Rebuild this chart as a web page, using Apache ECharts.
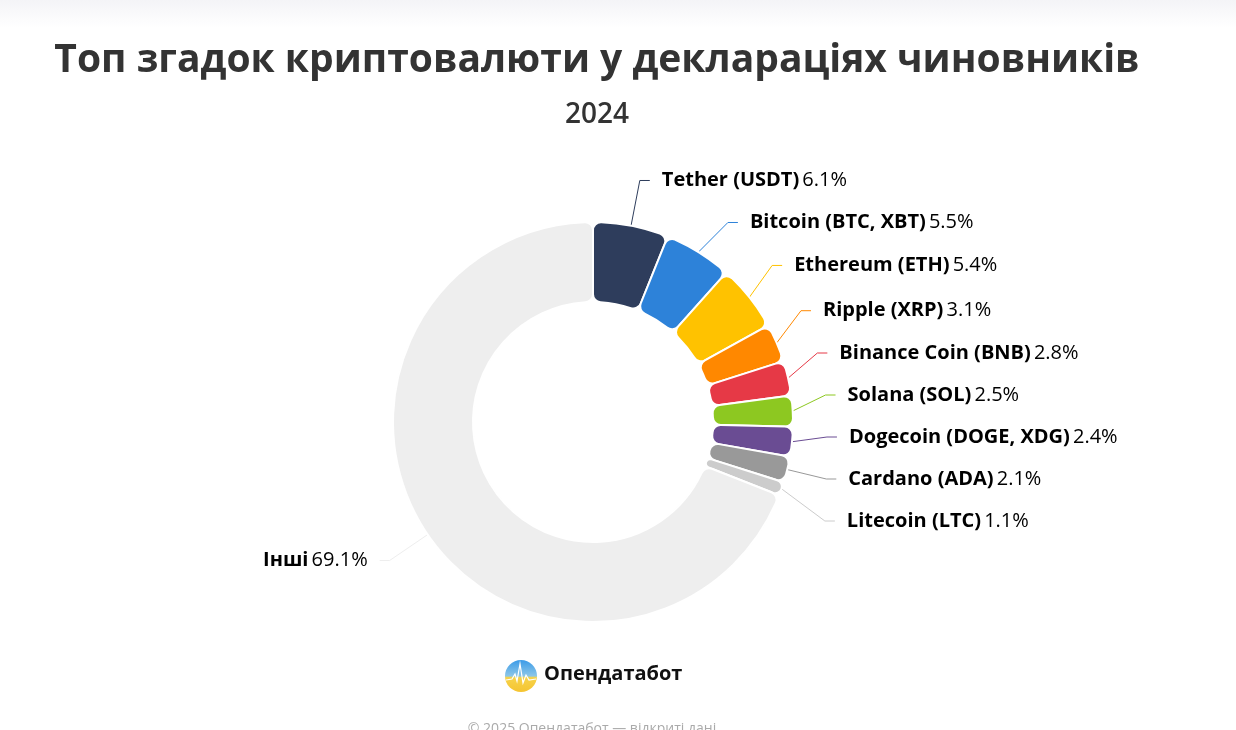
<!DOCTYPE html>
<html>
<head>
<meta charset="utf-8">
<script src="https://cdn.jsdelivr.net/npm/echarts@6/dist/echarts.min.js"></script>
<style>
  html, body { margin: 0; padding: 0; background: #fff; }
  #chart { width: 1236px; height: 730px; }
</style>
</head>
<body>
<div id="chart"></div>
<script>
  // дані
  const names = [
    'Tether (USDT)', 'Bitcoin (BTC, XBT)', 'Ethereum (ETH)', 'Ripple (XRP)',
    'Binance Coin (BNB)', 'Solana (SOL)', 'Dogecoin (DOGE, XDG)', 'Cardano (ADA)',
    'Litecoin (LTC)', 'Інші'
  ]
  const shares = [6.1, 5.5, 5.4, 3.1, 2.8, 2.5, 2.4, 2.1, 1.1, 69.1]
  const colors = [
    '#2e3d5c', '#2d82d9', '#ffc200', '#ff8800', '#e63946',
    '#8dc821', '#6a4c93', '#999999', '#cccccc', '#eeeeee'
  ]

  const chart = echarts.init(document.getElementById('chart'))

  chart.setOption({
    backgroundColor: '#fff',
    textStyle: { fontFamily: 'Open Sans' },
    title: [
      {
        text: 'Топ згадок криптовалюти у деклараціях чиновників',
        left: 592,
        textAlign: 'center',
        top: 36,
        textStyle: { fontSize: 39, fontWeight: 'bold', color: '#333', fontFamily: 'Open Sans' }
      },
      {
        text: '2024',
        left: 592,
        textAlign: 'center',
        top: 96,
        textStyle: { fontSize: 28, fontWeight: 600, color: '#333', fontFamily: 'Open Sans' }
      }
    ],
    graphic: [
      {
        type: 'rect',
        shape: { x: 0, y: 0, width: 1236, height: 28 },
        style: {
          fill: new echarts.graphic.LinearGradient(0, 0, 0, 1, [
            { offset: 0, color: '#f4f4f7' },
            { offset: 1, color: '#ffffff' }
          ])
        },
        silent: true
      },
      {
        type: 'circle',
        shape: { cx: 521, cy: 676, r: 16 },
        style: {
          fill: new echarts.graphic.LinearGradient(0, 0, 0, 1, [
            { offset: 0, color: '#3b9be8' },
            { offset: 0.5, color: '#8cc6e8' },
            { offset: 0.55, color: '#f7d34a' },
            { offset: 1, color: '#f5c431' }
          ])
        }
      },
      {
        type: 'polyline',
        shape: { points: [[506, 680], [512, 679], [515, 674], [517, 681], [520, 664], [523, 683], [526, 675], [529, 680], [536, 679]] },
        style: { stroke: '#ffffff', lineWidth: 1.2, fill: null }
      },
      {
        type: 'text',
        left: 544,
        top: 664,
        style: { text: 'Опендатабот', font: 'bold 20px "Open Sans"', fill: '#111' }
      },
      {
        type: 'text',
        x: 592,
        y: 722,
        style: { text: '© 2025 Опендатабот — відкриті дані', font: '14px "Open Sans"', fill: '#aaa', align: 'center' }
      }
    ],
    series: [
      {
        type: 'pie',
        // рамка макета обмежує підписи знизу, щоб вони стискалися як в оригіналі
        left: 0,
        top: 0,
        width: 1236,
        height: 542,
        center: [593, 422],
        radius: [120, 200],
        startAngle: 90,
        clockwise: true,
        avoidLabelOverlap: true,
        itemStyle: {
          borderRadius: 8,
          borderColor: '#fff',
          borderWidth: 2
        },
        label: {
          show: true,
          formatter: p => '{b|' + p.name + '} {v|' + p.value + '%}',
          distanceToLabelLine: 12,
          minMargin: 22,
          rich: {
            b: { fontSize: 20, fontWeight: 'bold', color: '#000', fontFamily: 'Open Sans' },
            v: { fontSize: 20, color: '#000', fontFamily: 'Open Sans' }
          }
        },
        labelLine: {
          show: true,
          length: 46,
          length2: 10,
          smooth: false,
          lineStyle: { width: 1 }
        },
        emphasis: { disabled: true },
        data: names.map((n, i) => ({
          name: n,
          value: shares[i],
          itemStyle: { color: colors[i] },
          labelLine: { lineStyle: { color: colors[i] } }
        }))
      }
    ]
  })
</script>
</body>
</html>
